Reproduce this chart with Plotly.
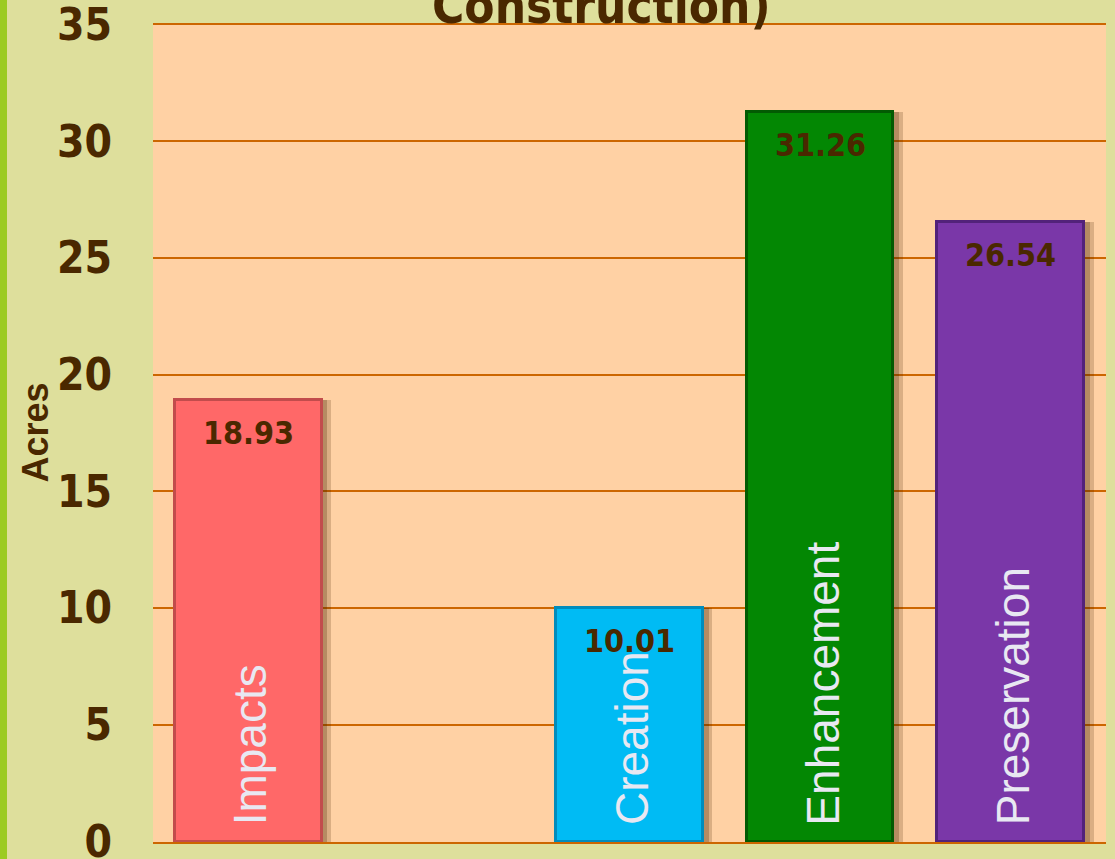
import plotly.graph_objects as go

categories = ["Impacts", " ", "Creation", "Enhancement", "Preservation"]
acres = [18.93, None, 10.01, 31.26, 26.54]
value_labels = ["18.93", "", "10.01", "31.26", "26.54"]
bar_colors = ["#FF6868", "rgba(0,0,0,0)", "#00BBF4", "#038703", "#7A37A8"]
edge_colors = ["#C24C4C", "rgba(0,0,0,0)", "#008CBC", "#025A02", "#52227A"]
title_text = "Construction)"
y_title = "Acres"
y_ticks = [0, 5, 10, 15, 20, 25, 30, 35]

BROWN = "#4A2800"
GRID = "#CC6600"
BAR_W = 0.77
COND = "DejaVu Sans Condensed, DejaVu Sans"

fig = go.Figure()

# soft shadows to the right of the bars
for dx, alpha in [(0.05, 0.2), (0.03, 0.25)]:
    fig.add_trace(go.Bar(
        x=categories, y=acres, width=BAR_W, offset=-BAR_W / 2 + dx,
        marker=dict(color=f"rgba(70,35,0,{alpha})", line=dict(width=0)),
        hoverinfo="skip", showlegend=False,
    ))

fig.add_trace(go.Bar(
    x=categories, y=acres, width=BAR_W, offset=-BAR_W / 2,
    marker=dict(color=bar_colors, line=dict(color=edge_colors, width=3)),
    showlegend=False,
))

annotations = []
for c, v, lab in zip(categories, acres, value_labels):
    if v is None:
        continue
    annotations.append(dict(
        x=c, y=v, xref="x", yref="y", text=f"<b>{lab}</b>", showarrow=False,
        yanchor="middle", xanchor="center", yshift=-33,
        font=dict(family=COND, size=32, color=BROWN),
    ))
    annotations.append(dict(
        x=c, y=0, xref="x", yref="y", text=c, showarrow=False, textangle=-90,
        yanchor="bottom", xanchor="center", yshift=14, xshift=2,
        font=dict(family="Liberation Sans", size=46, color="#E8E8F2"),
    ))

PLOT_W = 1106 - 153
annotations.append(dict(
    x=(601 - 153) / PLOT_W, y=1, xref="paper", yref="paper", text=f"<b>{title_text}</b>",
    showarrow=False, xanchor="center", yanchor="bottom", yshift=-14,
    font=dict(family=COND, size=49, color=BROWN),
))
annotations.append(dict(
    x=(35 - 153) / PLOT_W, y=0.5, xref="paper", yref="paper", text=f"<b>{y_title}</b>",
    showarrow=False, xanchor="center", yanchor="middle", textangle=-90,
    font=dict(family="Liberation Sans", size=36, color=BROWN),
))

fig.update_layout(
    width=1115, height=859,
    margin=dict(l=153, r=9, t=23, b=17, autoexpand=False),
    paper_bgcolor="#DEDF9C",
    plot_bgcolor="#FFD1A4",
    barmode="overlay",
    bargap=0,
    annotations=annotations,
    shapes=[dict(type="rect", xref="paper", yref="paper",
                 x0=-153 / PLOT_W, x1=-146 / PLOT_W, y0=-17 / 819, y1=1 + 23 / 819,
                 fillcolor="#9CCB22", line=dict(width=0), layer="below")],
)
fig.update_xaxes(
    type="category", categoryorder="array", categoryarray=categories,
    range=[-0.5, 4.5], showticklabels=False, showgrid=False, automargin=False,
    showline=True, linecolor=GRID, linewidth=2, zeroline=False, fixedrange=True,
)
fig.update_yaxes(
    range=[-0.02, 35.06], tickvals=y_ticks, showgrid=True, gridcolor=GRID, gridwidth=2,
    zeroline=False, showline=False, ticklabelstandoff=40, ticklabeloverflow="allow",
    automargin=False,
    tickfont=dict(family=COND, size=44, color=BROWN, weight="bold"),
    fixedrange=True,
)

fig.write_html(
    "out.html",
    config={"displayModeBar": False},
    post_script="document.body.style.margin='0';document.body.style.background='#DEDF9C';",
)
